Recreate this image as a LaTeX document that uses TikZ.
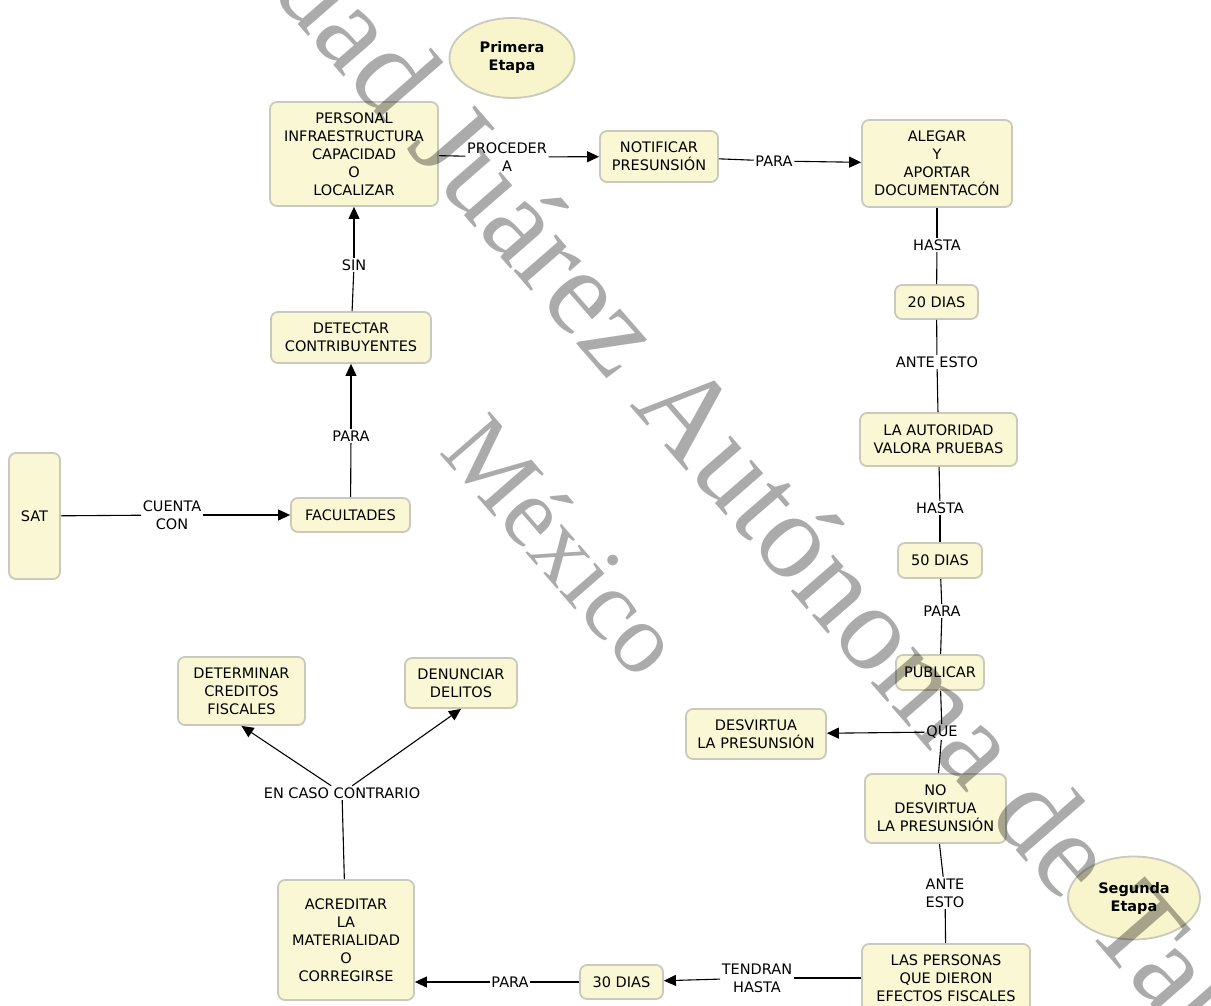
\documentclass[tikz,border=0pt]{standalone}
\usepackage{fontspec}
\setmainfont{DejaVu Sans}
\newfontfamily\wmfont{Liberation Serif}
\usetikzlibrary{arrows.meta,shapes.geometric}
\definecolor{boxfill}{RGB}{250,247,212}
\definecolor{boxline}{RGB}{201,201,188}
\definecolor{ellfill}{RGB}{248,244,203}
\newcommand\cmtxt{\fontsize{14.5}{18}\selectfont}
\begin{document}
\begin{tikzpicture}[x=1pt,y=-1pt,
  concept/.style={draw=boxline, line width=1.8pt, fill=boxfill, rounded corners=7pt, align=center, inner sep=0pt, font=\cmtxt},
  etapa/.style={ellipse, draw=boxline, line width=1.8pt, fill=ellfill, align=center, inner sep=0pt, font=\cmtxt\bfseries},
  lbl/.style={align=center, inner sep=1.5pt, font=\cmtxt},
  conn/.style={line width=1.1pt, black},
  arr/.style={conn, -{Triangle[length=12pt,width=11pt]}},
  wm/.style={rotate=-49, anchor=base west, inner sep=0pt, text=black, text opacity=0.33}]
\useasboundingbox (0,0) rectangle (1211,1006);
\fill[white] (0,0) rectangle (1211,1006);

% ellipses
\node[etapa, minimum width=125, minimum height=80] (pe) at (512,58) {Primera\\Etapa};
\node[etapa, minimum width=132, minimum height=83] (se) at (1134,898) {Segunda\\Etapa};

% concepts
\node[concept, minimum width=168, minimum height=104] (personal) at (354,154) {PERSONAL\\INFRAESTRUCTURA\\CAPACIDAD\\O\\LOCALIZAR};
\node[concept, minimum width=118, minimum height=51] (notificar) at (659,156.5) {NOTIFICAR\\PRESUNSIÓN};
\node[concept, minimum width=150, minimum height=87] (alegar) at (937,163.5) {ALEGAR\\Y\\APORTAR\\DOCUMENTACÓN};
\node[concept, minimum width=83, minimum height=34] (d20) at (936.5,302) {20 DIAS};
\node[concept, minimum width=157, minimum height=53] (autoridad) at (938.5,439.5) {LA AUTORIDAD\\VALORA PRUEBAS};
\node[concept, minimum width=84, minimum height=35] (d50) at (940,560.5) {50 DIAS};
\node[concept, minimum width=88, minimum height=35] (publicar) at (940,672.5) {PUBLICAR};
\node[concept, minimum width=140, minimum height=50] (desv) at (756,734) {DESVIRTUA\\LA PRESUNSIÓN};
\node[concept, minimum width=141, minimum height=69] (nodesv) at (935.5,808.5) {NO\\DESVIRTUA\\LA PRESUNSIÓN};
\node[concept, minimum width=168, minimum height=68] (personas) at (946,978) {LAS PERSONAS\\QUE DIERON\\EFECTOS FISCALES};
\node[concept, minimum width=83, minimum height=34] (d30) at (621.5,982) {30 DIAS};
\node[concept, minimum width=136, minimum height=120] (acreditar) at (346,940) {ACREDITAR\\LA\\MATERIALIDAD\\O\\CORREGIRSE};
\node[concept, minimum width=127, minimum height=68] (determinar) at (241.5,691) {DETERMINAR\\CREDITOS\\FISCALES};
\node[concept, minimum width=112, minimum height=50] (denunciar) at (461,683) {DENUNCIAR\\DELITOS};
\node[concept, minimum width=160, minimum height=51] (detectar) at (351,337.5) {DETECTAR\\CONTRIBUYENTES};
\node[concept, minimum width=119, minimum height=34] (facultades) at (350.5,515) {FACULTADES};
\node[concept, minimum width=51, minimum height=126] (sat) at (34.5,516) {SAT};

% linking phrases
\node[lbl] (lcuenta) at (172,515) {CUENTA\\CON};
\node[lbl] (lpara1) at (351,436) {PARA};
\node[lbl] (lsin) at (354,265) {SIN};
\node[lbl] (lproceder) at (507,157) {PROCEDER\\A};
\node[lbl] (lpara2) at (774,161) {PARA};
\node[lbl] (lhasta1) at (937,245) {HASTA};
\node[lbl] (lante1) at (937,362) {ANTE ESTO};
\node[lbl] (lhasta2) at (940,508) {HASTA};
\node[lbl] (lpara3) at (942,611) {PARA};
\node[lbl] (lque) at (942,732) {QUE};
\node[lbl] (lante2) at (945,893) {ANTE\\ESTO};
\node[lbl] (ltendran) at (757,978) {TENDRAN\\HASTA};
\node[lbl] (lpara4) at (510,982) {PARA};
\node[lbl] (lencaso) at (342,793) {EN CASO CONTRARIO};

% connectors
\draw[conn] (sat) -- (lcuenta);
\draw[arr] (lcuenta) -- (facultades);
\draw[conn] (facultades) -- (lpara1);
\draw[arr] (lpara1) -- (detectar);
\draw[conn] (detectar) -- (lsin);
\draw[arr] (lsin) -- (personal);
\draw[conn] (personal) -- (lproceder);
\draw[arr] (lproceder) -- (notificar);
\draw[conn] (notificar) -- (lpara2);
\draw[arr] (lpara2) -- (alegar);
\draw[conn] (alegar) -- (lhasta1);
\draw[conn] (lhasta1) -- (d20);
\draw[conn] (d20) -- (lante1);
\draw[conn] (lante1) -- (autoridad);
\draw[conn] (autoridad) -- (lhasta2);
\draw[conn] (lhasta2) -- (d50);
\draw[conn] (d50) -- (lpara3);
\draw[conn] (lpara3) -- (publicar);
\draw[conn] (publicar) -- (lque);
\draw[arr] (lque) -- (desv);
\draw[conn] (lque) -- (nodesv);
\draw[conn] (nodesv) -- (lante2);
\draw[conn] (lante2) -- (personas);
\draw[conn] (personas) -- (ltendran);
\draw[arr] (ltendran) -- (d30);
\draw[conn] (d30) -- (lpara4);
\draw[arr] (lpara4) -- (acreditar.east |- lpara4);
\draw[conn] (acreditar) -- (lencaso);
\draw[arr] (lencaso) -- (determinar.south);
\draw[arr] (lencaso) -- (denunciar.south);

% watermark
\begin{scope}
\clip (0,0) rectangle (1211,1006);
\node[wm, font=\wmfont\fontsize{122}{146}\selectfont] (wm1) at (-6,-326) {Universidad Juárez Autónoma de Tabasco};
\node[wm, font=\wmfont\fontsize{100}{120}\selectfont] (wm2) at (438,452) {México};
\end{scope}
\end{tikzpicture}
\end{document}
